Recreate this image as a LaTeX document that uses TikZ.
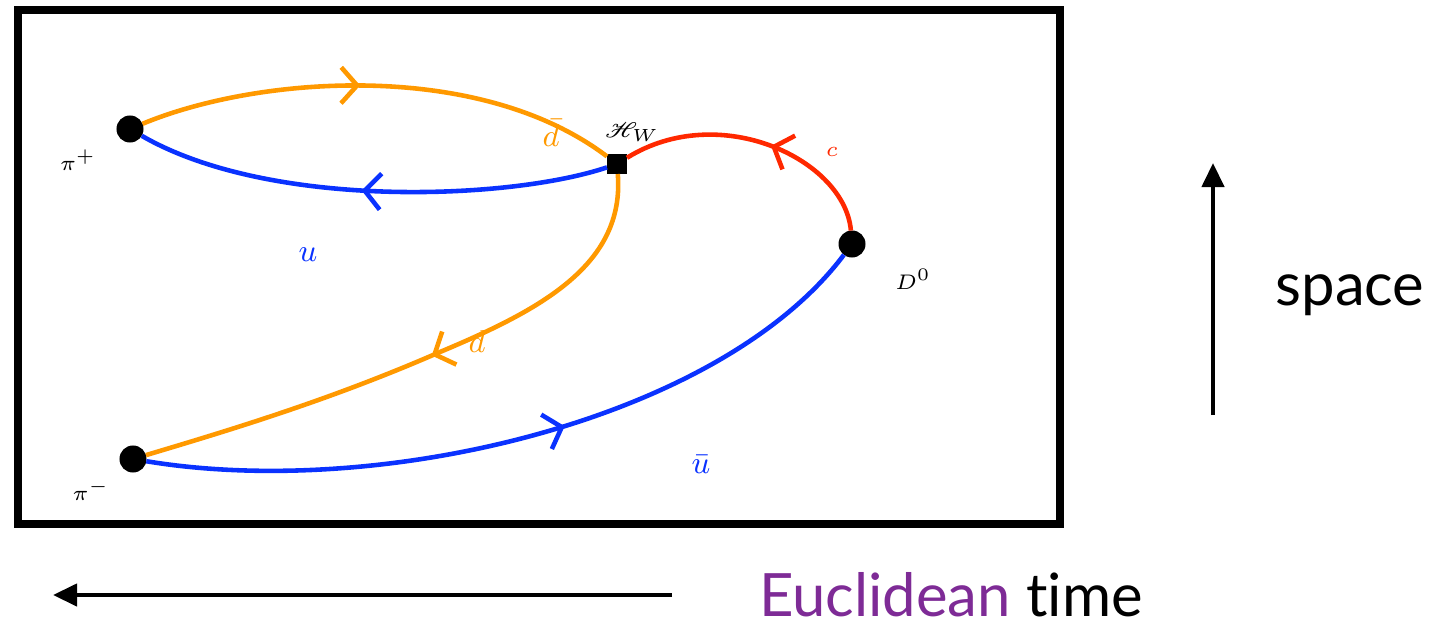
\documentclass[tikz,border=0pt]{standalone}
\usepackage{fontspec}
\usepackage{mathrsfs}
\setsansfont{Lato}[Ligatures=NoCommon]
\usetikzlibrary{arrows.meta,decorations.markings}
\begin{document}
\begin{tikzpicture}[x={(0.01cm,0cm)},y={(0cm,-0.01cm)},
  quark/.style={line width=1.3pt},
  orangeq/.style={quark,draw={rgb,255:red,255;green,153;blue,0}},
  blueq/.style={quark,draw={rgb,255:red,10;green,50;blue,255}},
  redq/.style={quark,draw={rgb,255:red,255;green,40;blue,0}},
  midarrow/.style={postaction={decorate},decoration={markings,mark=at position #1 with {\arrow{Straight Barb[length=1.6mm,width=3.6mm]}}}},
  dot/.style={circle,fill=black,minimum size=0.27cm,inner sep=0pt,outer sep=0pt},
  vertex/.style={rectangle,fill=black,minimum size=0.2cm,inner sep=0pt,outer sep=0pt},
  every node/.append style={inner sep=1pt},
  big/.style={font=\sffamily\fontsize{17}{20}\selectfont}]
\useasboundingbox (0,0) rectangle (1433,621);
\draw[line width=2pt] (18,10) rectangle (1060,524);
% hadrons and weak vertex
\node[dot] (pip) at (130,129) {};
\node[dot] (pim) at (133,459) {};
\node[dot] (dz) at (852,244) {};
\node[vertex] (hw) at (617,164) {};
% quark lines
\draw[orangeq,midarrow=0.46] (pip) .. controls (260,75) and (480,60) .. (hw);
\draw[blueq,midarrow=0.52] (hw) .. controls (510,200) and (270,210) .. (pip);
\draw[redq,midarrow=0.45] (dz) .. controls (845,160) and (720,100) .. (hw);
\draw[orangeq,midarrow=0.48] (hw) .. controls (625,265) and (540,310) .. (440,352)
  .. controls (330,400) and (230,430) .. (pim);
\draw[blueq,midarrow=0.56] (pim) .. controls (380,500) and (720,420) .. (dz);
% labels
\node[font=\fontsize{6}{7}\selectfont] (lpip) at (78,160) {$\pi^+$};
\node[font=\fontsize{6}{7}\selectfont] (lpim) at (91,490) {$\pi^-$};
\node[font=\fontsize{6}{7}\selectfont] (ldz) at (913,279) {$D^0$};
\node[font=\fontsize{6}{7}\selectfont] (lhw) at (632,132) {$\mathscr{H}_W$};
\node[font=\fontsize{9}{10}\selectfont,text={rgb,255:red,255;green,153;blue,0}] (ldbar) at (551,133) {$\bar d$};
\node[font=\fontsize{9}{10}\selectfont,text={rgb,255:red,255;green,153;blue,0}] (ld) at (477,342) {$d$};
\node[font=\fontsize{6}{7}\selectfont,text={rgb,255:red,255;green,40;blue,0}] (lc) at (832,152) {$c$};
\node[font=\fontsize{9}{10}\selectfont,text={rgb,255:red,10;green,50;blue,255}] (lu) at (308,255) {$u$};
\node[font=\fontsize{9}{10}\selectfont,text={rgb,255:red,10;green,50;blue,255}] (lubar) at (701,464) {$\bar u$};
% axes
\coordinate (s0) at (1213,415);
\coordinate (s1) at (1213,163);
\draw[line width=1.2pt,-{Triangle[length=0.24cm,width=0.22cm]}] (s0) -- (s1);
\node[big] (space) at (1350,295) {space};
\coordinate (t0) at (672,595);
\coordinate (t1) at (53,595);
\draw[line width=1.2pt,-{Triangle[length=0.24cm,width=0.22cm]}] (t0) -- (t1);
\node[big] (time) at (951,595) {\textcolor[RGB]{126,43,150}{Euclidean} time};
\end{tikzpicture}
\end{document}
